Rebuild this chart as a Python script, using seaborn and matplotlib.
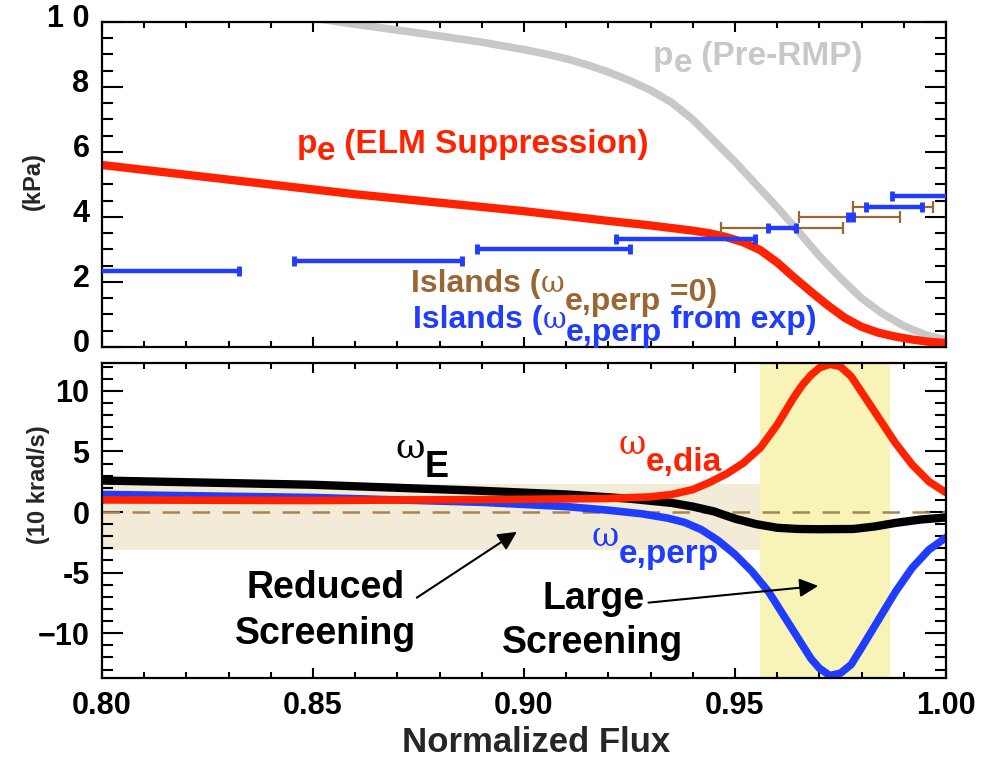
import numpy as np
import pandas as pd
import matplotlib
matplotlib.use("Agg")
import matplotlib.pyplot as plt
import seaborn as sns
from matplotlib.transforms import offset_copy, ScaledTranslation
from matplotlib.ticker import MultipleLocator, FixedLocator, FixedFormatter

# ---------------- data ----------------
# top panel: electron pressure profiles (kPa)
pre_x = [0.850, 0.860, 0.870, 0.880, 0.890, 0.900, 0.905, 0.910, 0.915, 0.920,
         0.925, 0.930, 0.935, 0.940, 0.945, 0.950, 0.955, 0.960, 0.965, 0.970,
         0.975, 0.980, 0.985, 0.990, 0.995, 1.000]
pre_y = [10.12, 9.93, 9.75, 9.57, 9.38, 9.15, 9.02, 8.87, 8.68, 8.46,
         8.20, 7.90, 7.52, 7.00, 6.35, 5.70, 5.00, 4.30, 3.56, 2.80,
         2.12, 1.50, 1.02, 0.65, 0.38, 0.22]

sup_x = [0.800, 0.820, 0.840, 0.860, 0.880, 0.900, 0.920, 0.930, 0.935, 0.940,
         0.944, 0.948, 0.952, 0.956, 0.960, 0.964, 0.968, 0.972, 0.976, 0.980,
         0.984, 0.988, 0.992, 0.996, 1.000]
sup_y = [5.60, 5.30, 5.00, 4.70, 4.44, 4.18, 3.88, 3.74, 3.66, 3.58,
         3.50, 3.38, 3.22, 2.98, 2.60, 2.14, 1.70, 1.28, 0.90, 0.62,
         0.44, 0.32, 0.23, 0.16, 0.12]

# island widths: left/right edges and heights
isl_exp_left = [0.790, 0.8455, 0.8888, 0.9219, 0.9579, 0.9768, 0.9810, 0.9871]
isl_exp_right = [0.8325, 0.8854, 0.9251, 0.9547, 0.9645, 0.9779, 0.9942, 1.010]
isl_exp_y = [2.35, 2.66, 3.00, 3.32, 3.65, 4.01, 4.32, 4.66]

isl_zero_left = [0.9467, 0.9652, 0.9780]
isl_zero_right = [0.9757, 0.9892, 0.9970]
isl_zero_y = [3.65, 3.99, 4.32]

# bottom panel: frequencies (10 krad/s)
dia_x = [0.800, 0.850, 0.900, 0.920, 0.930, 0.935, 0.940, 0.944, 0.948, 0.952,
         0.956, 0.960, 0.964, 0.966, 0.968, 0.970, 0.9725, 0.975, 0.9775, 0.980,
         0.984, 0.988, 0.992, 0.996, 1.000]
dia_y = [1.00, 0.95, 1.05, 1.12, 1.25, 1.45, 1.85, 2.45, 3.15, 4.05,
         5.30, 7.20, 9.50, 10.5, 11.3, 11.9, 12.2, 12.0, 11.2, 9.90,
         7.80, 5.70, 3.90, 2.50, 1.60]

perp_x = [0.800, 0.850, 0.890, 0.910, 0.920, 0.928, 0.934, 0.938, 0.942, 0.946,
          0.950, 0.954, 0.958, 0.962, 0.966, 0.968, 0.970, 0.9725, 0.975, 0.9775,
          0.980, 0.984, 0.988, 0.992, 0.996, 1.000]
perp_y = [1.45, 1.20, 0.80, 0.45, 0.15, -0.15, -0.50, -0.85, -1.45, -2.35,
          -3.50, -4.90, -6.60, -8.80, -11.0, -12.1, -12.9, -13.5, -13.3, -12.6,
          -11.2, -8.90, -6.60, -4.60, -3.10, -2.10]

wE_x = [0.800, 0.850, 0.890, 0.910, 0.925, 0.935, 0.940, 0.945, 0.950, 0.955,
        0.960, 0.965, 0.970, 0.978, 0.983, 0.988, 0.994, 1.000]
wE_y = [2.60, 2.25, 1.75, 1.45, 1.10, 0.75, 0.45, 0.05, -0.55, -1.00,
        -1.30, -1.40, -1.42, -1.40, -1.20, -0.90, -0.62, -0.45]

reduced_band_x = [0.800, 0.9559]
reduced_band_y = [-3.15, 2.30]
large_band_x = [0.9559, 0.9867]

top_yticks = [0, 2, 4, 6, 8, 10]
top_yticklabels = ["0", "2", "4", "6", "8", "1 0"]
bot_yticks = [-10, -5, 0, 5, 10]
bot_yticklabels = ["\u221210", "-5", "0", "5", "10"]
xticks = [0.80, 0.85, 0.90, 0.95, 1.00]
xticklabels = ["0.80", "0.85", "0.90", "0.95", "1.00"]

# ---------------- style ----------------
sns.set_theme(style="ticks")
plt.rcParams["font.family"] = ["Liberation Sans", "DejaVu Sans"]
plt.rcParams["font.weight"] = "bold"
plt.rcParams["axes.linewidth"] = 1.6

RED = "#ff2200"
BLUE = "#1f3cff"
GRAY = "#c8c8c8"
BROWN = "#9a6733"
DASH = "#a98450"
TAN = "#f2ebd7"
YEL = "#f8f4b8"
SERIF = ["DejaVu Serif"]

fig = plt.figure(figsize=(9.83, 7.59), dpi=100)
ax1 = fig.add_axes([102 / 983, 1 - 347 / 759, 844 / 983, 325 / 759])
ax2 = fig.add_axes([102 / 983, 1 - 678 / 759, 844 / 983, 315 / 759])


def rich(ax, x, y, pieces):
    r = fig.canvas.get_renderer()
    dx = 0.0
    for s, kw in pieces:
        kw = dict(kw)
        dy = kw.pop("dy", 0)
        gap = kw.pop("gap", 0)
        dx += gap
        tr = offset_copy(ax.transData, fig=fig, x=dx, y=dy, units="points")
        t = ax.text(x, y, s, transform=tr, ha="left", va="baseline", **kw)
        w = t.get_window_extent(renderer=r).width
        dx += w * 72 / fig.dpi


# ---------------- top panel ----------------
sns.lineplot(x=pre_x, y=pre_y, ax=ax1, color=GRAY, linewidth=5.5, sort=False, estimator=None)
sns.lineplot(x=sup_x, y=sup_y, ax=ax1, color=RED, linewidth=6.0, sort=False, estimator=None)

zl = np.array(isl_zero_left); zr = np.array(isl_zero_right)
ax1.errorbar((zl + zr) / 2, isl_zero_y, xerr=(zr - zl) / 2, fmt="none", ecolor=BROWN,
             elinewidth=1.6, capsize=4, capthick=1.6, zorder=3)
el = np.array(isl_exp_left); er = np.array(isl_exp_right)
ax1.errorbar((el + er) / 2, isl_exp_y, xerr=(er - el) / 2, fmt="none", ecolor=BLUE,
             elinewidth=3.2, capsize=3.5, capthick=3.5, zorder=4)

ax1.set_xlim(0.8, 1.0)
ax1.set_ylim(0, 10)
ax1.set_ylabel("")
ax1.set_xlabel("")
ax1.yaxis.set_major_locator(FixedLocator(top_yticks))
ax1.yaxis.set_major_formatter(FixedFormatter(top_yticklabels))
ax1.yaxis.set_minor_locator(MultipleLocator(0.5))
ax1.xaxis.set_major_locator(FixedLocator(xticks))
ax1.xaxis.set_minor_locator(MultipleLocator(0.01))
ax1.tick_params(axis="x", labelbottom=False)

big = 24
rich(ax1, 0.8461, 5.98, [("p", dict(color=RED, fontsize=big)),
                          ("e", dict(color=RED, fontsize=big, dy=-5)),
                          (" (ELM Suppression)", dict(color=RED, fontsize=big))])
rich(ax1, 0.9306, 8.68, [("p", dict(color=GRAY, fontsize=big)),
                          ("e", dict(color=GRAY, fontsize=big, dy=-5)),
                          (" (Pre-RMP)", dict(color=GRAY, fontsize=big))])
isl = 23
rich(ax1, 0.8733, 1.70, [("Islands (", dict(color=BROWN, fontsize=isl)),
                          ("\u03c9", dict(color=BROWN, fontsize=21, family=SERIF, fontweight="normal")),
                          ("e,perp", dict(color=BROWN, fontsize=isl, dy=-13)),
                          (" =0)", dict(color=BROWN, fontsize=isl, dy=-7))])
rich(ax1, 0.8737, 0.575, [("Islands (", dict(color=BLUE, fontsize=isl)),
                           ("\u03c9", dict(color=BLUE, fontsize=21, family=SERIF, fontweight="normal")),
                           ("e,perp", dict(color=BLUE, fontsize=isl, dy=-9)),
                           (" from exp)", dict(color=BLUE, fontsize=isl))])

# ---------------- bottom panel ----------------
ax2.fill_between(reduced_band_x, reduced_band_y[0], reduced_band_y[1], color=TAN, lw=0, zorder=0.5)
ax2.axvspan(large_band_x[0], large_band_x[1], color=YEL, lw=0, zorder=0.5)
ax2.axhline(0, color=DASH, lw=1.8, dashes=(7, 5), zorder=1.5)

sns.lineplot(x=wE_x, y=wE_y, ax=ax2, color="black", linewidth=6.0, sort=False, estimator=None)
sns.lineplot(x=perp_x, y=perp_y, ax=ax2, color=BLUE, linewidth=5.5, sort=False, estimator=None)
sns.lineplot(x=dia_x, y=dia_y, ax=ax2, color=RED, linewidth=5.5, sort=False, estimator=None)

ax2.set_xlim(0.8, 1.0)
ax2.set_ylim(-13.7, 12.3)
ax2.set_ylabel("")
ax2.set_xlabel("")
ax2.yaxis.set_major_locator(FixedLocator(bot_yticks))
ax2.yaxis.set_major_formatter(FixedFormatter(bot_yticklabels))
ax2.yaxis.set_minor_locator(MultipleLocator(1))
ax2.xaxis.set_major_locator(FixedLocator(xticks))
ax2.xaxis.set_major_formatter(FixedFormatter(xticklabels))
ax2.xaxis.set_minor_locator(MultipleLocator(0.01))

rich(ax2, 0.8695, 2.85, [("\u03c9", dict(color="black", fontsize=26, family=SERIF, fontweight="normal", dy=14)),
                          ("E", dict(color="black", fontsize=26))])
rich(ax2, 0.9225, 3.4, [("\u03c9", dict(color=RED, fontsize=24, family=SERIF, fontweight="normal", dy=12)),
                         ("e,dia", dict(color=RED, fontsize=24))])
rich(ax2, 0.916, -4.17, [("\u03c9", dict(color=BLUE, fontsize=24, family=SERIF, fontweight="normal", dy=12)),
                          ("e,perp", dict(color=BLUE, fontsize=24))])

fs_ann = 27
ax2.text(0.8529, -7.07, "Reduced", ha="center", va="baseline", fontsize=fs_ann, color="black")
ax2.text(0.8529, -10.9, "Screening", ha="center", va="baseline", fontsize=fs_ann, color="black")
ax2.text(0.9166, -8.0, "Large", ha="center", va="baseline", fontsize=fs_ann, color="black")
ax2.text(0.9163, -11.6, "Screening", ha="center", va="baseline", fontsize=fs_ann, color="black")

arrow = dict(arrowstyle="-|>", color="black", lw=1.5, mutation_scale=28, shrinkA=0, shrinkB=0)
ax2.annotate("", xy=(0.8983, -1.64), xytext=(0.8746, -7.07), arrowprops=arrow, zorder=6)
ax2.annotate("", xy=(0.9697, -6.1), xytext=(0.9295, -7.48), arrowprops=arrow, zorder=6)

# ---------------- axes styling ----------------
for ax in (ax1, ax2):
    ax.tick_params(axis="both", which="both", direction="in", top=True, right=True,
                   width=1.5, colors="black", labelsize=22)
    ax.tick_params(axis="y", which="major", length=15, pad=9)
    ax.tick_params(axis="y", which="minor", length=8)
    ax.tick_params(axis="x", which="major", length=7, pad=9)
    ax.tick_params(axis="x", which="minor", length=4)
    for sp in ax.spines.values():
        sp.set_visible(True)
        sp.set_color("black")
    for lab in ax.get_xticklabels() + ax.get_yticklabels():
        lab.set_fontweight("bold")

shift = ScaledTranslation(0, 5 / 72, fig.dpi_scale_trans)
for lab in ax1.get_yticklabels():
    lab.set_transform(lab.get_transform() + shift)

fig.text(33 / 983, 1 - 181 / 759, "(kPa)", rotation=90, ha="center", va="center",
         fontsize=17, fontweight="bold")
fig.text(38 / 983, 1 - 485 / 759, "(10 krad/s)", rotation=90, ha="center", va="center",
         fontsize=17, fontweight="bold")
fig.text(536 / 983, 7 / 759, "Normalized Flux", ha="center", va="baseline",
         fontsize=25, fontweight="bold")

fig.savefig("out.png", dpi=100)
